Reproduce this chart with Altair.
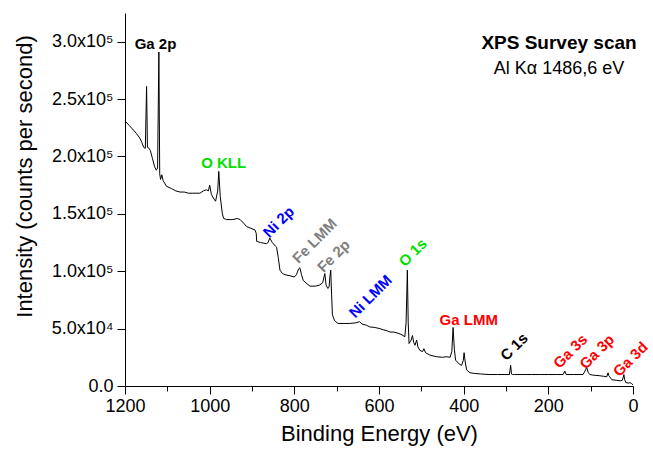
import altair as alt
import pandas as pd

# ---- spectrum (binding energy in eV, intensity in counts per second) ----
energy = [1200, 1190, 1180, 1173, 1165, 1160, 1156, 1152, 1149, 1147, 1143, 1140, 1135, 1130,
          1126, 1123, 1120, 1118, 1116, 1113, 1110, 1102, 1090, 1080, 1070, 1060, 1050, 1040,
          1030, 1023, 1015, 1008, 1003, 1000, 996, 990, 986, 981, 978.5, 975, 970, 967, 960,
          950, 945, 935, 928, 920, 913, 900, 893, 890, 889, 880, 866, 862, 858, 852, 845, 842,
          838, 834, 828, 822, 810, 800, 795, 790, 787, 783, 779, 770, 763, 750, 740, 733, 728,
          725, 721, 718, 716, 714, 712, 710, 705, 697, 680, 669, 655, 646, 640, 630, 622, 610,
          598, 590, 580, 574, 565, 555, 548, 539, 536, 533, 531, 529, 524, 521, 518, 515, 511,
          508, 503.5, 497, 494, 490, 480, 470, 464, 450, 441, 432, 428, 425, 422, 419, 410,
          405, 401, 399, 396, 393, 385, 375, 360, 340, 320, 300, 292, 289, 287, 285, 280, 260,
          240, 220, 200, 180, 165, 161, 158, 140, 125, 118, 112, 109.5, 106, 102, 95, 80, 70,
          62, 59, 57, 55, 50, 40, 30, 25, 21.5, 20, 17, 10, 7, 3, 0]
intensity = [231000, 227000, 223000, 220000, 216000, 212000, 208000, 207000, 261000, 208000,
             207000, 205000, 198000, 191000, 188000, 190000, 291000, 185000, 180000, 184000,
             179000, 174000, 172000, 170000, 169000, 169000, 168000, 168000, 168000, 168000,
             170000, 171000, 170000, 175000, 167000, 163000, 161000, 170000, 187000, 165000,
             150000, 146000, 145000, 145000, 145000, 146000, 145000, 142000, 139000, 137000,
             136000, 133000, 126000, 125000, 124000, 125000, 129000, 125000, 122000, 121000,
             112000, 101000, 98000, 97000, 96000, 95000, 97000, 102000, 103000, 97000, 92000,
             89000, 87000, 87000, 88000, 90000, 98000, 88000, 85000, 86000, 95000, 101000,
             80000, 62000, 57000, 54500, 54500, 54500, 55000, 56000, 54000, 53000, 51500,
             51000, 50000, 49000, 48000, 47000, 47000, 46000, 45000, 43000, 55000, 101000,
             55000, 37000, 40000, 44000, 38000, 35500, 40000, 34000, 31000, 30000, 32500,
             29000, 27000, 26000, 25500, 25000, 25500, 25000, 30000, 51000, 32000, 22500,
             19000, 18000, 22000, 29000, 20000, 14000, 11500, 11000, 10500, 10000, 10000,
             10000, 10000, 18000, 10500, 10000, 10000, 10000, 10000, 10000, 10000, 10000,
             10000, 13000, 10000, 10000, 10000, 10000, 14000, 16500, 12000, 10000, 9500, 9000,
             8500, 8000, 11500, 9000, 8000, 5500, 5000, 4500, 5000, 10000, 6000, 3000, 2500,
             3000, 2000, 1000]

# ---- peak annotations ----
labels = ["Ga 2p", "O KLL", "Ni 2p", "Fe LMM", "Fe 2p", "Ni LMM", "O 1s", "Ga LMM",
          "C 1s", "Ga 3s", "Ga 3p", "Ga 3d"]
label_energy = [1128, 967, 837, 752, 707, 620, 520, 388, 281, 148, 85, 6]
label_intensity = [298000, 194500, 143000, 126400, 113300, 78000, 116300, 57100, 34200,
                   30300, 29900, 23300]
label_colors = ["#000000", "#00e000", "#0000ff", "#808080", "#808080", "#0000ff", "#00e000",
                "#ff0000", "#000000", "#ff0000", "#ff0000", "#ff0000"]
label_angles = [0, 0, 315, 315, 315, 315, 315, 0, 315, 315, 315, 315]

title_line1 = ["XPS Survey scan"]
title_line2 = ["Al Kα 1486,6 eV"]

FONT = "Liberation Sans"

spec = pd.DataFrame({"E": energy, "I": intensity})
ann = pd.DataFrame({"label": labels, "E": label_energy, "I": label_intensity,
                    "color": label_colors, "angle": label_angles})

x_enc = alt.X("E:Q", scale=alt.Scale(domain=[0, 1200], reverse=True, nice=False),
              axis=alt.Axis(values=list(range(0, 1201, 100)),
                            labelExpr="datum.value % 200 == 0 ? format(datum.value, 'd') : ''",
                            tickSize={"condition": {"test": "datum.value % 200 == 0", "value": 8}, "value": 5},
                            grid=False, domainColor="black", tickColor="black", labelColor="black",
                            labelFont=FONT, labelFontSize=18, labelPadding=3, labelFlush=False,
                            labelOverlap=False, title="Binding Energy (eV)", titleFont=FONT,
                            titleFontSize=22, titleFontWeight="normal", titleColor="black",
                            titleBaseline="alphabetic", titleY=54, titleX=254, titleAlign="center"))
y_enc = alt.Y("I:Q", scale=alt.Scale(domain=[0, 325000], nice=False),
              axis=alt.Axis(values=list(range(0, 300001, 25000)),
                            labelExpr="datum.value == 0 ? '0.0' : (datum.value % 50000 != 0 ? '' : (datum.value < 100000 ? format(datum.value / 10000, '.1f') + 'x10⁴' : format(datum.value / 100000, '.1f') + 'x10⁵'))",
                            tickSize={"condition": {"test": "datum.value % 50000 == 0", "value": 8}, "value": 4},
                            grid=False, domainColor="black", tickColor="black", labelColor="black",
                            labelFont=FONT, labelFontSize=18, labelPadding=4, labelOverlap=False,
                            title="Intensity (counts per second)", titleFont=FONT, titleFontSize=22,
                            titleFontWeight="normal", titleColor="black", titleAngle=270,
                            titleBaseline="alphabetic", titleX=-94, titleY=163, titleAlign="center"))

line = alt.Chart(spec).mark_line(color="black", strokeWidth=1).encode(x=x_enc, y=y_enc)

texts = alt.Chart(ann).mark_text(font=FONT, fontSize=15, fontWeight="bold", align="center",
                                 baseline="middle").encode(
    x=alt.X("E:Q"), y=alt.Y("I:Q"), text="label:N",
    color=alt.Color("color:N", scale=None), angle=alt.Angle("angle:Q", scale=None))

t1 = alt.Chart(pd.DataFrame({"t": title_line1})).mark_text(
    font=FONT, fontSize=19, fontWeight="bold", align="center", baseline="alphabetic",
    color="black").encode(text="t:N", x=alt.value(434), y=alt.value(36))
t2 = alt.Chart(pd.DataFrame({"t": title_line2})).mark_text(
    font=FONT, fontSize=18, align="center", baseline="alphabetic",
    color="black").encode(text="t:N", x=alt.value(434), y=alt.value(61))

chart = alt.layer(line, texts, t1, t2).properties(
    width=508, height=373,
    padding={"left": 125, "top": 13, "right": 20, "bottom": 64},
    autosize=alt.AutoSizeParams(type="none"),
    background="white",
).configure_view(strokeWidth=0)

chart.save("out.html", embed_options={"renderer": "svg", "actions": False})
